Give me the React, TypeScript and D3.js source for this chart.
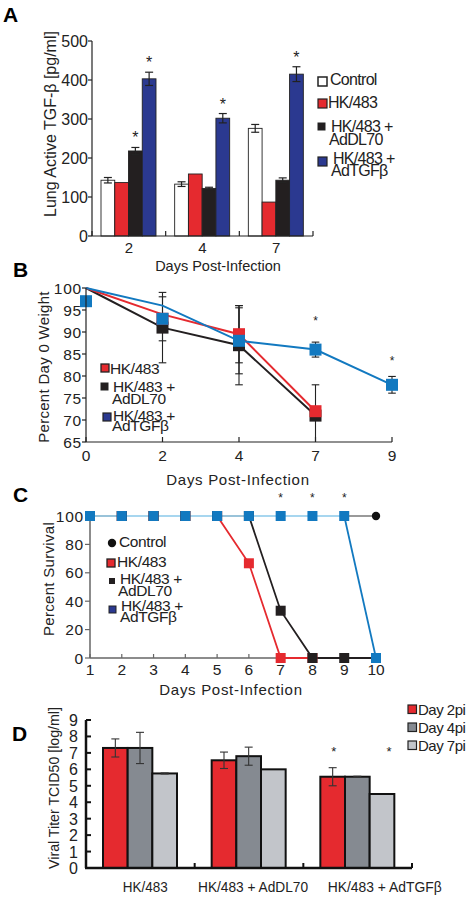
import React from "react";
import * as d3 from "d3";

const FONT = "'Liberation Sans', Arial, Helvetica, sans-serif";
const RED = "#e52a2f";
const BLACK = "#231f20";
const NAVY = "#2b3990";
const BLUE = "#1279c0";
const LIGHTBLUE = "#a7d6ef";

// ---------- Panel A data ----------
const aDays = ["2", "4", "7"];
const aSeries = ["Control", "HK/483", "HK/483 + AdDL70", "HK/483 + AdTGFβ"];
const aControl = [143, 133, 276];
const aHK = [137, 159, 87];
const aDL70 = [218, 122, 143];
const aTGF = [403, 302, 415];
const aControlErr = [7, 6, 10];
const aHKErr = [0, 0, 0];
const aDL70Err = [9, 3, 6];
const aTGFErr = [17, 12, 19];
const aStarSeries = [["HK/483 + AdDL70", "HK/483 + AdTGFβ"], ["HK/483 + AdTGFβ"], ["HK/483 + AdTGFβ"]];
const aYTicks = [0, 100, 200, 300, 400, 500];

// ---------- Panel B data ----------
const bDays = ["0", "2", "4", "7", "9"];
const bHKLine = [100, 94, 89.5, 72, null];
const bDL70Line = [100, 91, 87, 71, null];
const bTGFLine = [100, 96, 88, 86, 78];
const bHKMarker = [null, 93, 89.5, 72, null];
const bDL70Marker = [null, 91, 87, 71, null];
const bTGFMarker = [97, 93, 88, 86, 78];
const bHKErr = [0, 5, 6.5, 0, 0];
const bDL70Err = [0, 8, 9, 7, 0];
const bTGFErr = [0, 0, 7.5, 1.7, 1.9];
const bStarDays = ["7", "9"];
const bYTicks = [65, 70, 75, 80, 85, 90, 95, 100];

// ---------- Panel C data ----------
const cDays = [1, 2, 3, 4, 5, 6, 7, 8, 9, 10];
const cControl = [100, 100, 100, 100, 100, 100, 100, 100, 100, 100];
const cHK = [100, 100, 100, 100, 100, 66.7, 0, 0, null, null];
const cDL70 = [100, 100, 100, 100, 100, 100, 33.3, 0, 0, 0];
const cTGF = [100, 100, 100, 100, 100, 100, 100, 100, 100, 0];
const cStarDays = [7, 8, 9];
const cYTicks = [0, 20, 40, 60, 80, 100];

// ---------- Panel D data ----------
const dGroups = ["HK/483", "HK/483 + AdDL70", "HK/483 + AdTGFβ"];
const dDaysLbl = ["Day 2pi", "Day 4pi", "Day 7pi"];
const dDay2 = [7.3, 6.55, 5.55];
const dDay4 = [7.3, 6.8, 5.55];
const dDay7 = [5.75, 6.0, 4.5];
const dDay2Err = [0.55, 0.5, 0.55];
const dDay4Err = [0.95, 0.55, 0.03];
const dDay7Err = [0.03, 0, 0];
const dStars = [[], [], ["Day 2pi", "Day 7pi"]];
const dYTicks = [0, 1, 2, 3, 4, 5, 6, 7, 8, 9];

function Star({ x, y, size = 16 }: { x: number; y: number; size?: number }) {
  return (
    <text x={x} y={y + size * 0.56} fontSize={size} textAnchor="middle" fill="#222">
      *
    </text>
  );
}

function ErrBar({ x, y0, y1, w = 4, color = "#222", sw = 1.2, capTop = true, capBot = true }: any) {
  return (
    <g stroke={color} strokeWidth={sw}>
      <line x1={x} x2={x} y1={y0} y2={y1} />
      {capTop && <line x1={x - w} x2={x + w} y1={y0} y2={y0} />}
      {capBot && <line x1={x - w} x2={x + w} y1={y1} y2={y1} />}
    </g>
  );
}

// two-line legend label in one text element
function TwoLine({ x1, y1, x2, y2, a, b }: { x1: number; y1: number; x2: number; y2: number; a: string; b: string }) {
  return (
    <text x={x1} y={y1}>
      {a}
      <tspan x={x2} y={y2}>{b}</tspan>
    </text>
  );
}

function PanelA() {
  const y = d3.scaleLinear().domain([0, 500]).range([236, 41]);
  const x0 = d3.scaleBand<string>().domain(aDays).range([92, 313]);
  const x1 = d3.scaleBand<string>().domain(aSeries).range([9, 64]);
  const vals = [aControl, aHK, aDL70, aTGF];
  const errs = [aControlErr, aHKErr, aDL70Err, aTGFErr];
  const fills = ["#ffffff", RED, BLACK, NAVY];
  const bw = x1.bandwidth();
  const boundaries = [...aDays.map((d) => x0(d)!), 313];
  return (
    <g>
      <text x={3} y={22} fontSize={21} fontWeight="bold">A</text>
      {aDays.map((d, di) =>
        aSeries.map((s, si) => {
          const v = vals[si][di];
          const bx = x0(d)! + x1(s)!;
          return (
            <rect key={d + s} x={bx} y={y(v)} width={bw} height={y(0) - y(v)} fill={fills[si]} stroke="#222" strokeWidth={0.9} />
          );
        })
      )}
      {aDays.map((d, di) =>
        aSeries.map((s, si) => {
          const e = errs[si][di];
          if (!e) return null;
          const v = vals[si][di];
          const cx = x0(d)! + x1(s)! + bw / 2;
          return <ErrBar key={"e" + d + s} x={cx} y0={y(v + e)} y1={y(v - e)} w={4} />;
        })
      )}
      {aDays.map((d, di) =>
        aStarSeries[di].map((s) => {
          const si = aSeries.indexOf(s);
          const top = vals[si][di] + errs[si][di];
          const cx = x0(d)! + x1(s)! + bw / 2;
          return <Star key={"s" + d + s} x={cx} y={y(top) - 13} size={16} />;
        })
      )}
      <line x1={92} x2={92} y1={y(500)} y2={y(0)} stroke="#222" strokeWidth={1.2} />
      <line x1={92} x2={313} y1={y(0)} y2={y(0)} stroke="#222" strokeWidth={1.2} />
      {aYTicks.map((t) => (
        <g key={t}>
          <line x1={88} x2={92} y1={y(t)} y2={y(t)} stroke="#222" strokeWidth={1.2} />
          <text x={88} y={y(t) + 6} fontSize={16} textAnchor="end" fill="#222">{t}</text>
        </g>
      ))}
      {boundaries.map((b, i) => (
        <line key={i} x1={b} x2={b} y1={y(0)} y2={y(0) - 5} stroke="#222" strokeWidth={1.2} />
      ))}
      {aDays.map((d) => (
        <text key={d} x={x0(d)! + x0.bandwidth() / 2} y={253} fontSize={15} textAnchor="middle" fill="#222">{d}</text>
      ))}
      <text x={218} y={271} fontSize={14.5} textAnchor="middle" fill="#222">Days Post-Infection</text>
      <text transform="translate(56,124) rotate(-90)" fontSize={16} textAnchor="middle" fill="#222">
        Lung Active TGF-β  [pg/ml]
      </text>
      <g fontSize={16} letterSpacing={-0.7} fill="#222">
        <rect x={318} y={77} width={9} height={9} fill="#fff" stroke="#222" strokeWidth={1.5} />
        <text x={330} y={85}>Control</text>
        <rect x={318} y={99} width={9} height={9} fill={RED} stroke="#222" strokeWidth={1.2} />
        <text x={328} y={108}>HK/483</text>
        <rect x={318} y={123} width={7} height={7} fill={BLACK} stroke="#222" strokeWidth={1} />
        <TwoLine x1={331} y1={132} x2={329} y2={145} a="HK/483 +" b="AdDL70" />
        <rect x={318} y={157} width={9} height={9} fill={NAVY} stroke="#222" strokeWidth={1.2} />
        <TwoLine x1={333} y1={164} x2={331} y2={176} a="HK/483 +" b="AdTGFβ" />
      </g>
    </g>
  );
}

function PanelB() {
  const x = d3.scalePoint<string>().domain(bDays).range([86, 392]);
  const y = d3.scaleLinear().domain([65, 100]).range([442, 288]);
  const line = d3
    .line<number | null>()
    .defined((d) => d != null)
    .x((_, i) => x(bDays[i])!)
    .y((d) => y(d as number));
  const series = [
    { line: bDL70Line, marker: bDL70Marker, err: bDL70Err, color: BLACK },
    { line: bHKLine, marker: bHKMarker, err: bHKErr, color: RED },
    { line: bTGFLine, marker: bTGFMarker, err: bTGFErr, color: BLUE },
  ];
  const ms = 12;
  return (
    <g>
      <text x={13} y={277} fontSize={21} fontWeight="bold">B</text>
      {series.map((s, si) =>
        s.marker.map((v, i) => {
          if (v == null || !s.err[i]) return null;
          const top = Math.min(100, v + s.err[i]);
          const bot = Math.max(65, v - s.err[i]);
          return (
            <ErrBar key={si + "-" + i} x={x(bDays[i])!} y0={y(top)} y1={y(bot)} w={3.8} sw={1.1} capBot={v - s.err[i] >= 65} />
          );
        })
      )}
      {series.map((s, si) => (
        <path key={si} d={line(s.line as any) || ""} fill="none" stroke={s.color} strokeWidth={2} />
      ))}
      {series.map((s, si) =>
        s.marker.map((v, i) =>
          v == null ? null : (
            <rect key={si + "m" + i} x={x(bDays[i])! - ms / 2} y={y(v) - ms / 2} width={ms} height={ms} fill={s.color} />
          )
        )
      )}
      {bStarDays.map((d) => {
        const i = bDays.indexOf(d);
        return <Star key={d} x={x(d)!} y={i === 3 ? 318 : 358} size={12} />;
      })}
      <line x1={86} x2={86} y1={y(100)} y2={y(65)} stroke="#222" strokeWidth={1.2} />
      <line x1={86} x2={392} y1={y(65)} y2={y(65)} stroke="#222" strokeWidth={1.2} />
      {bYTicks.map((t) => (
        <g key={t}>
          <line x1={82} x2={86} y1={y(t)} y2={y(t)} stroke="#222" strokeWidth={1.2} />
          <text x={82} y={y(t) + 5.5} fontSize={15.5} letterSpacing={0.8} textAnchor="end" fill="#222">{t}</text>
        </g>
      ))}
      {bDays.map((d) => (
        <g key={d}>
          <line x1={x(d)!} x2={x(d)!} y1={y(65)} y2={y(65) - 5} stroke="#222" strokeWidth={1.2} />
          <text x={x(d)!} y={461} fontSize={15.5} textAnchor="middle" fill="#222">{d}</text>
        </g>
      ))}
      <text x={238} y={485} fontSize={15} letterSpacing={0.7} textAnchor="middle" fill="#222">Days Post-Infection</text>
      <text transform="translate(49,367) rotate(-90)" fontSize={15} letterSpacing={0.3} textAnchor="middle" fill="#222">
        Percent Day 0 Weight
      </text>
      <g fontSize={15.5} letterSpacing={-0.4} fill="#222">
        <rect x={101} y={364} width={8} height={8} fill={RED} stroke="#222" strokeWidth={1.3} />
        <text x={110} y={374}>HK/483</text>
        <rect x={101} y={383} width={7} height={7} fill={BLACK} stroke="#222" strokeWidth={1} />
        <TwoLine x1={113} y1={392} x2={112} y2={404} a="HK/483 +" b="AdDL70" />
        <rect x={103} y={413} width={8} height={8} fill={NAVY} stroke="#222" strokeWidth={1.2} />
        <TwoLine x1={113} y1={421} x2={112} y2={431} a="HK/483 +" b="AdTGFβ" />
      </g>
    </g>
  );
}

function PanelC() {
  const x = d3.scaleLinear().domain([1, 10]).range([90, 376]);
  const y = d3.scaleLinear().domain([0, 100]).range([658, 516]);
  const line = d3
    .line<number | null>()
    .defined((d) => d != null)
    .x((_, i) => x(cDays[i]))
    .y((d) => y(d as number));
  const ms = 10;
  const tgfSegs = cTGF.slice(1).map((v, i) => ({ a: cTGF[i], b: v, i }));
  return (
    <g>
      <text x={13} y={502} fontSize={21} fontWeight="bold">C</text>
      <line x1={90} x2={90} y1={y(100) + 4} y2={y(0)} stroke="#666" strokeWidth={1.5} />
      <line x1={90} x2={379} y1={y(0)} y2={y(0)} stroke="#666" strokeWidth={1.5} />
      {cYTicks.map((t) => (
        <g key={t}>
          <line x1={85} x2={90} y1={y(t)} y2={y(t)} stroke="#666" strokeWidth={1.2} />
          <text x={84} y={y(t) + 5.5} fontSize={15.5} letterSpacing={0.8} textAnchor="end" fill="#222">{t}</text>
        </g>
      ))}
      {cDays.map((d) => (
        <g key={d}>
          <line x1={x(d)} x2={x(d)} y1={y(0)} y2={y(0) - 4} stroke="#666" strokeWidth={1.2} />
          <text x={x(d)} y={675} fontSize={15.5} textAnchor="middle" fill="#222">{d}</text>
        </g>
      ))}
      <text x={231} y={695} fontSize={15} letterSpacing={0.7} textAnchor="middle" fill="#222">Days Post-Infection</text>
      <text transform="translate(54,579) rotate(-90)" fontSize={15} letterSpacing={0.3} textAnchor="middle" fill="#222">
        Percent Survival
      </text>
      <path d={line(cControl as any) || ""} fill="none" stroke="#9a9a9a" strokeWidth={1.8} />
      <path d={line(cHK as any) || ""} fill="none" stroke={RED} strokeWidth={1.8} />
      <path d={line(cDL70 as any) || ""} fill="none" stroke={BLACK} strokeWidth={1.8} />
      {tgfSegs.map((s) => (
        <line
          key={s.i}
          x1={x(cDays[s.i])}
          x2={x(cDays[s.i + 1])}
          y1={y(s.a)}
          y2={y(s.b)}
          stroke={s.a === 100 && s.b === 100 ? LIGHTBLUE : BLUE}
          strokeWidth={1.8}
        />
      ))}
      {cControl.map((v, i) => (
        <circle key={"c" + i} cx={x(cDays[i])} cy={y(v)} r={4.2} fill="#111" />
      ))}
      {cHK.map((v, i) =>
        v == null ? null : <rect key={"h" + i} x={x(cDays[i]) - ms / 2} y={y(v) - ms / 2} width={ms} height={ms} fill={RED} />
      )}
      {cDL70.map((v, i) =>
        v == null ? null : <rect key={"d" + i} x={x(cDays[i]) - ms / 2} y={y(v) - ms / 2} width={ms} height={ms} fill={BLACK} />
      )}
      {cTGF.map((v, i) => (
        <rect key={"t" + i} x={x(cDays[i]) - ms / 2} y={y(v) - ms / 2} width={ms} height={ms} fill={BLUE} />
      ))}
      {cStarDays.map((d) => (
        <Star key={d} x={x(d)} y={495} size={12} />
      ))}
      <g fontSize={15.5} letterSpacing={-0.4} fill="#222">
        <circle cx={112} cy={543} r={4.2} fill="#111" />
        <text x={119} y={547}>Control</text>
        <rect x={107} y={559} width={8} height={8} fill={RED} stroke="#222" strokeWidth={1.3} />
        <text x={117} y={567}>HK/483</text>
        <rect x={109} y={578} width={6} height={6} fill={BLACK} />
        <TwoLine x1={120} y1={584} x2={118} y2={596} a="HK/483 +" b="AdDL70" />
        <rect x={109} y={606} width={7} height={7} fill={NAVY} stroke="#222" strokeWidth={1} />
        <TwoLine x1={121} y1={611} x2={120} y2={622} a="HK/483 +" b="AdTGFβ" />
      </g>
    </g>
  );
}

function PanelD() {
  const x0 = d3.scaleBand<string>().domain(dGroups).range([86, 412]);
  const x1 = d3.scaleBand<string>().domain(dDaysLbl).range([17, 91]);
  const y = d3.scaleLinear().domain([0, 9]).range([868, 720]);
  const vals = [dDay2, dDay4, dDay7];
  const errs = [dDay2Err, dDay4Err, dDay7Err];
  const fills = [RED, "#858a91", "#c2c5ca"];
  const bw = x1.bandwidth();
  const boundaries = [x0(dGroups[1])!, x0(dGroups[2])!, 412];
  const lblShift = [5, 4, 27];
  const lblWidth = [45, 110, 114];
  return (
    <g>
      <text x={12} y={741} fontSize={21} fontWeight="bold">D</text>
      {dGroups.map((g, gi) =>
        dDaysLbl.map((s, si) => {
          const v = vals[si][gi];
          return (
            <rect key={g + s} x={x0(g)! + x1(s)!} y={y(v)} width={bw} height={y(0) - y(v)} fill={fills[si]} stroke="#111" strokeWidth={2} />
          );
        })
      )}
      {dGroups.map((g, gi) =>
        dDaysLbl.map((s, si) => {
          const e = errs[si][gi];
          if (!e) return null;
          const v = vals[si][gi];
          const cx = x0(g)! + x1(s)! + bw / 2;
          return <ErrBar key={"e" + g + s} x={cx} y0={y(v + e)} y1={y(v - e)} w={4} color="#333" sw={1.1} />;
        })
      )}
      {dGroups.map((g, gi) =>
        dStars[gi].map((s) => <Star key={g + s} x={x0(g)! + x1(s)! + bw / 2 + (s === "Day 2pi" ? 1 : 7)} y={749} size={13} />)
      )}
      <line x1={86} x2={86} y1={y(9)} y2={y(0)} stroke="#111" strokeWidth={2.5} />
      <line x1={85} x2={412} y1={y(0)} y2={y(0)} stroke="#111" strokeWidth={2.5} />
      {dYTicks.map((t) => (
        <g key={t}>
          <line x1={86} x2={91} y1={y(t)} y2={y(t)} stroke="#111" strokeWidth={2} />
          <text x={78} y={y(t) + 6} fontSize={16} textAnchor="end" fill="#222">{t}</text>
        </g>
      ))}
      {boundaries.map((b, i) => (
        <line key={i} x1={b} x2={b} y1={y(0)} y2={y(0) - 5} stroke="#111" strokeWidth={2} />
      ))}
      {dGroups.map((g, gi) => (
        <text
          key={g}
          x={x0(g)! + x0.bandwidth() / 2 + lblShift[gi]}
          y={892}
          fontSize={15.5}
          textLength={lblWidth[gi]}
          lengthAdjust="spacingAndGlyphs"
          textAnchor="middle"
          fill="#222"
        >
          {g}
        </text>
      ))}
      <text transform="translate(59,788) rotate(-90)" fontSize={14.2} textAnchor="middle" fill="#222">
        Viral Titer TCID50 [log/ml]
      </text>
      <g fontSize={15} letterSpacing={-0.5} fill="#222">
        {dDaysLbl.map((s, i) => (
          <g key={s}>
            <rect x={408} y={705 + i * 18} width={8.5} height={8.5} fill={fills[i]} stroke="#222" strokeWidth={1.2} />
            <text x={418} y={714.5 + i * 18}>{s}</text>
          </g>
        ))}
      </g>
    </g>
  );
}

export default function App() {
  return (
    <svg
      width={467}
      height={899}
      style={{ position: "absolute", left: 0, top: 0, background: "#fff" }}
      fontFamily={FONT}
    >
      <PanelA />
      <PanelB />
      <PanelC />
      <PanelD />
    </svg>
  );
}
